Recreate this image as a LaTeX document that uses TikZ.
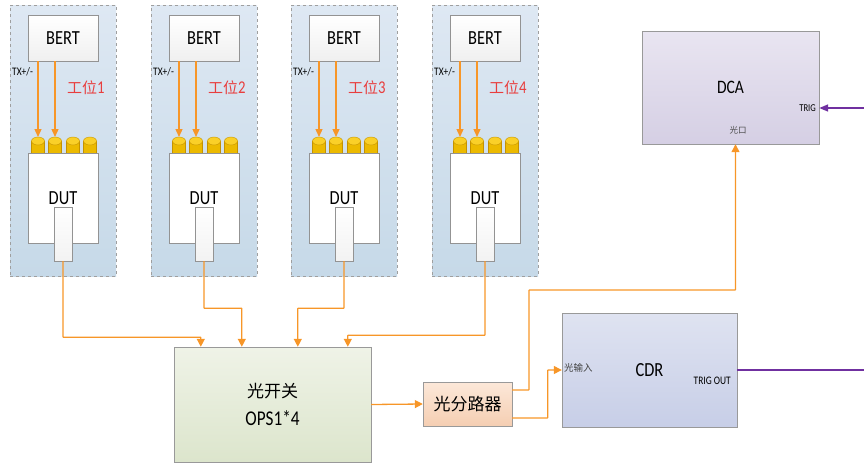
\documentclass[tikz,border=0pt]{standalone}
\usepackage{fontspec}
\setmainfont{Carlito}[FakeStretch=0.82]
\newfontfamily\cjk{Noto Sans CJK SC}
\usetikzlibrary{
  arrows.meta,
  positioning,
  calc
}
\definecolor{fiber}{RGB}{247,150,40}
\definecolor{trig}{RGB}{112,48,160}
\definecolor{benchtop}{RGB}{222,232,243}
\definecolor{benchbot}{RGB}{198,217,232}
\definecolor{opstop}{RGB}{239,243,231}
\definecolor{opsbot}{RGB}{220,229,204}
\definecolor{splittop}{RGB}{252,232,217}
\definecolor{splitbot}{RGB}{245,206,178}
\definecolor{cdrtop}{RGB}{223,227,241}
\definecolor{cdrbot}{RGB}{199,206,231}
\definecolor{dcatop}{RGB}{233,229,241}
\definecolor{dcabot}{RGB}{213,207,228}
\definecolor{jackbody}{RGB}{236,186,0}
\definecolor{jacktop}{RGB}{250,208,40}
\definecolor{jackedge}{RGB}{196,146,0}
\definecolor{benchred}{RGB}{232,62,62}

\begin{document}
\begin{tikzpicture}[x=1pt, y=-1pt,
  every node/.style={font=\rmfamily, inner sep=0pt},
  bench/.style={draw=gray!75, dashed, top color=benchtop, bottom color=benchbot,
                minimum width=106, minimum height=271},
  box/.style={draw=gray!85, top color=white, bottom color=gray!12,
              font=\fontsize{20}{22}\selectfont},
  plugbox/.style={draw=gray!85, top color=white, bottom color=gray!10,
                  minimum width=18, minimum height=54},
  jack/.style={fill=jackbody, draw=jackedge, line width=0.4pt},
  tx/.style={draw=fiber, line width=1.3pt, -{Triangle[width=7pt,length=8pt]}},
  fib/.style={draw=fiber, line width=1.3pt, rounded corners=0.5pt,
              -{Triangle[width=8pt,length=8pt]}},
  trg/.style={draw=trig, line width=1.6pt},
  small/.style={font=\fontsize{11.5}{13}\selectfont},
  unit/.style={draw=gray!80, align=center},
]
\useasboundingbox (0,0) rectangle (864,463);

% test benches
\foreach \i/\ox in {1/10, 2/151, 3/291, 4/432} {
  \node[bench] (bench\i) at (\ox+53,140.5) {};
  \node[box, minimum width=70, minimum height=46] (bert\i) at (\ox+53,38) {BERT};
  \foreach \k/\dx in {a/28, b/45, c/63, d/80} {
    \filldraw[jack] (\ox+\dx-6.5,141) rectangle (\ox+\dx+6.5,153);
    \filldraw[jack, fill=jacktop] (\ox+\dx,141) ellipse (6.5 and 4);
    \coordinate (p\i-\k) at (\ox+\dx,137);
  }
  \node[box, top color=white, bottom color=white, minimum width=70, minimum height=90]
    (dut\i) at (\ox+53,198) {DUT};
  \node[plugbox] (plug\i) at (\ox+53,234) {};
  \draw[tx] (bert\i.south -| p\i-a) -- (p\i-a);
  \draw[tx] (bert\i.south -| p\i-b) -- (p\i-b);
  \node[small, anchor=west] (tx\i) at (\ox+2,72) {TX+/-};
  \node[anchor=west, text=benchred, font=\fontsize{18}{20}\selectfont]
    (name\i) at (\ox+57,88) {{\cjk\fontsize{15}{18}\selectfont 工位}\i};
}

% optical path
\node[unit, top color=opstop, bottom color=opsbot, minimum width=197, minimum height=115,
      font=\fontsize{21}{26}\selectfont] (ops) at (272.5,404.5)
      {{\cjk\fontsize{17}{20}\selectfont 光开关}\\[2pt]OPS1*4};
\node[unit, top color=splittop, bottom color=splitbot, minimum width=89, minimum height=44,
      font=\cjk\fontsize{17}{20}\selectfont] (split) at (467.5,404) {光分路器};
\node[unit, top color=cdrtop, bottom color=cdrbot, minimum width=175, minimum height=114,
      font=\fontsize{20}{22}\selectfont] (cdr) at (649.5,370) {CDR};
\node[unit, top color=dcatop, bottom color=dcabot, minimum width=177, minimum height=113,
      font=\fontsize{19}{22}\selectfont] (dca) at (730.5,87.5) {DCA};

\node[anchor=west, text=gray!50!black, font=\cjk\fontsize{9.5}{11}\selectfont]
  (cdrin) at (564,368) {光输入};
\node[small, anchor=east] (cdrout) at (731,381) {TRIG OUT};
\node[anchor=east, font=\fontsize{10.5}{12}\selectfont] (dcatrig) at (816,108) {TRIG};
\node[text=gray!60!black, font=\cjk\fontsize{8.5}{10}\selectfont] (dcaport) at (738,130) {光口};

\draw[fib] (plug1.south) -- ++(0,76) -| ([xshift=27pt]ops.north west);
\draw[fib] (plug2.south) -- ++(0,47) -| ([xshift=68pt]ops.north west);
\draw[fib] (plug3.south) -- ++(0,47) -| ([xshift=124pt]ops.north west);
\draw[fib] (plug4.south) -- ++(0,74) -| ([xshift=174pt]ops.north west);
\draw[fib] (ops.east) -- (split.west);
\draw[fib] ([yshift=14pt]split.east) -- (529,390) -- (529,290) -| ([xshift=5pt]dca.south);
\draw[fib] ([yshift=-14pt]split.east) -| ([xshift=-14pt]cdr.west) -- (cdr.west);

% trigger
\coordinate (edgeA) at (864,108);
\coordinate (edgeB) at (864,370);
\draw[trg, -{Triangle[width=7pt,length=9pt]}] (edgeA) -- ([yshift=-20.5pt]dca.east);
\draw[trg] (cdr.east) -- (edgeB);

\end{tikzpicture}
\end{document}
